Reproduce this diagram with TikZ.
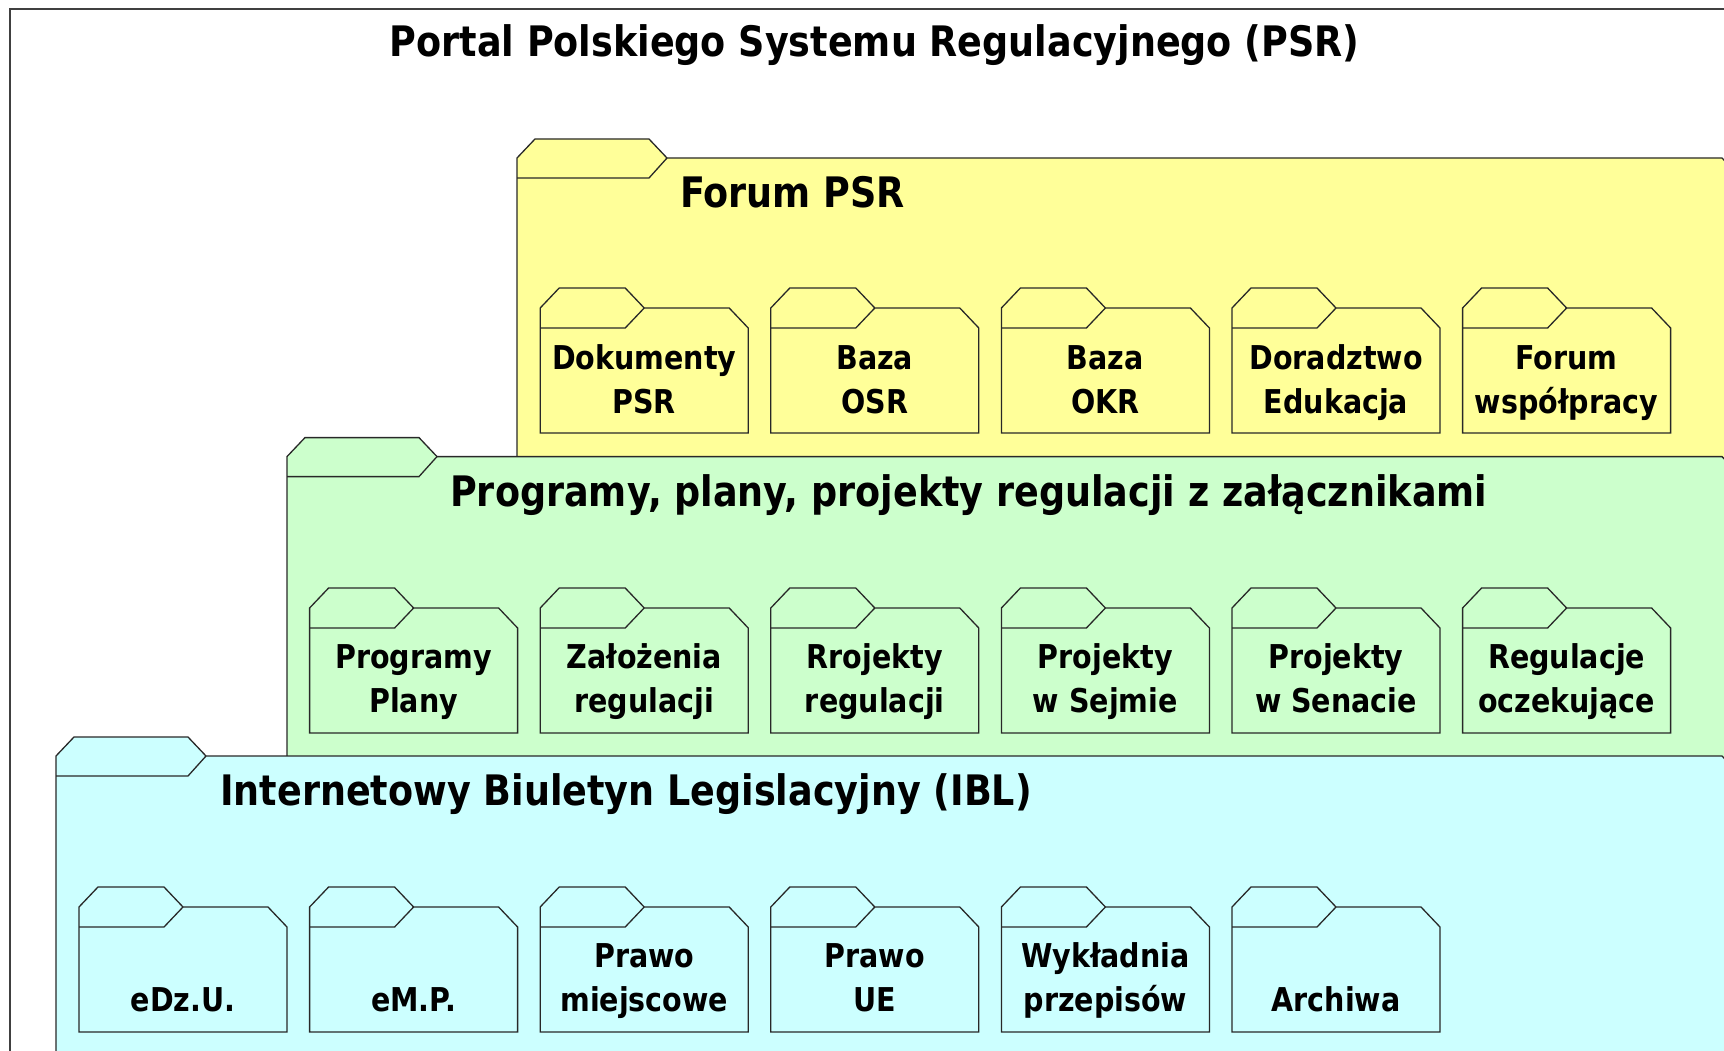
\documentclass[tikz,border=0pt]{standalone}
\usepackage{fontspec}
\newfontfamily\diafont[FakeStretch=0.87]{DejaVu Sans}
\definecolor{pkgyellow}{HTML}{FFFF99}
\definecolor{pkggreen}{HTML}{CCFFCC}
\definecolor{pkgcyan}{HTML}{CCFFFF}
\definecolor{pkgline}{HTML}{282828}
% big package: #1 left, #2 tab top, #3 fill
\newcommand\bigpkg[3]{%
  \filldraw[pkgedge, fill=#3] (#1,1100) -- (#1,#2+19) -- (#1+18,#2) -- (#1+132,#2) -- (#1+150,#2+19)
    -- (1722,#2+19) -- (1740,#2+38) -- (1740,1100) -- cycle;
  \draw[pkgedge] (#1,#2+39) -- (#1+132,#2+39) -- (#1+150,#2+19);}
% small package: #1 left, #2 tab top, #3 fill
\newcommand\smallpkg[3]{%
  \filldraw[pkgedge, fill=#3] (#1,#2+145) -- (#1,#2+20) -- (#1+19,#2) -- (#1+85,#2) -- (#1+104,#2+20)
    -- (#1+189,#2+20) -- (#1+208,#2+40) -- (#1+208,#2+145) -- cycle;
  \draw[pkgedge] (#1,#2+40) -- (#1+85,#2+40) -- (#1+104,#2+20);}
\newcommand\twolines[2]{\begin{tabular}[b]{@{}c@{}}#1\\#2\end{tabular}}
\begin{document}
\begin{tikzpicture}[x=1pt,y=-1pt,
  pkgedge/.style={draw=pkgline, line width=1.3pt, line join=miter},
  frameline/.style={draw=black!75, line width=1.3pt},
  bigtitle/.style={font=\diafont\bfseries\fontsize{42}{50}\selectfont, inner sep=0pt},
  pkglabel/.style={font=\diafont\bfseries\fontsize{32.8}{44}\selectfont, inner sep=0pt, anchor=base}]
\useasboundingbox (0,0) rectangle (1724,1051);
\clip (0,0) rectangle (1724,1051);
\fill[white] (0,0) rectangle (1724,1051);
\draw[frameline] (10,9) rectangle (1780,1100);
\node[bigtitle, anchor=base] (title) at (874.6,57) {Portal Polskiego Systemu Regulacyjnego (PSR)};

% ---- Forum PSR (yellow) ----
\bigpkg{517}{139}{pkgyellow}
\node[bigtitle, anchor=base west] (forum) at (680,207.5) {Forum PSR};
\smallpkg{540.2}{288}{pkgyellow}
\smallpkg{770.8}{288}{pkgyellow}
\smallpkg{1001.4}{288}{pkgyellow}
\smallpkg{1232}{288}{pkgyellow}
\smallpkg{1462.6}{288}{pkgyellow}
\node[pkglabel] (dok) at (644.2,413) {\twolines{Dokumenty}{PSR}};
\node[pkglabel] (osr) at (874.8,413) {\twolines{Baza}{OSR}};
\node[pkglabel] (okr) at (1105.4,413) {\twolines{Baza}{OKR}};
\node[pkglabel] (dor) at (1336,413) {\twolines{Doradztwo}{Edukacja}};
\node[pkglabel] (fws) at (1566.6,413) {\twolines{Forum}{współpracy}};

% ---- Programy (green) ----
\bigpkg{287}{437.6}{pkggreen}
\node[bigtitle, anchor=base west] (prog) at (450,506) {Programy, plany, projekty regulacji z załącznikami};
\smallpkg{309.6}{588}{pkggreen}
\smallpkg{540.2}{588}{pkggreen}
\smallpkg{770.8}{588}{pkggreen}
\smallpkg{1001.4}{588}{pkggreen}
\smallpkg{1232}{588}{pkggreen}
\smallpkg{1462.6}{588}{pkggreen}
\node[pkglabel] (pp) at (413.6,712) {\twolines{Programy}{Plany}};
\node[pkglabel] (zal) at (644.2,712) {\twolines{Założenia}{regulacji}};
\node[pkglabel] (rr) at (874.8,712) {\twolines{Rrojekty}{regulacji}};
\node[pkglabel] (psj) at (1105.4,712) {\twolines{Projekty}{w Sejmie}};
\node[pkglabel] (psn) at (1336,712) {\twolines{Projekty}{w Senacie}};
\node[pkglabel] (rocz) at (1566.6,712) {\twolines{Regulacje}{oczekujące}};

% ---- IBL (cyan) ----
\bigpkg{56}{737}{pkgcyan}
\node[bigtitle, anchor=base west] (ibl) at (220,805.5) {Internetowy Biuletyn Legislacyjny (IBL)};
\smallpkg{79}{887}{pkgcyan}
\smallpkg{309.6}{887}{pkgcyan}
\smallpkg{540.2}{887}{pkgcyan}
\smallpkg{770.8}{887}{pkgcyan}
\smallpkg{1001.4}{887}{pkgcyan}
\smallpkg{1232}{887}{pkgcyan}
\node[pkglabel] (edz) at (183,1011) {eDz.U.};
\node[pkglabel] (emp) at (413.6,1011) {eM.P.};
\node[pkglabel] (pm) at (644.2,1011) {\twolines{Prawo}{miejscowe}};
\node[pkglabel] (pue) at (874.8,1011) {\twolines{Prawo}{UE}};
\node[pkglabel] (wyk) at (1105.4,1011) {\twolines{Wykładnia}{przepisów}};
\node[pkglabel] (arch) at (1336,1011) {Archiwa};
\end{tikzpicture}
\end{document}
